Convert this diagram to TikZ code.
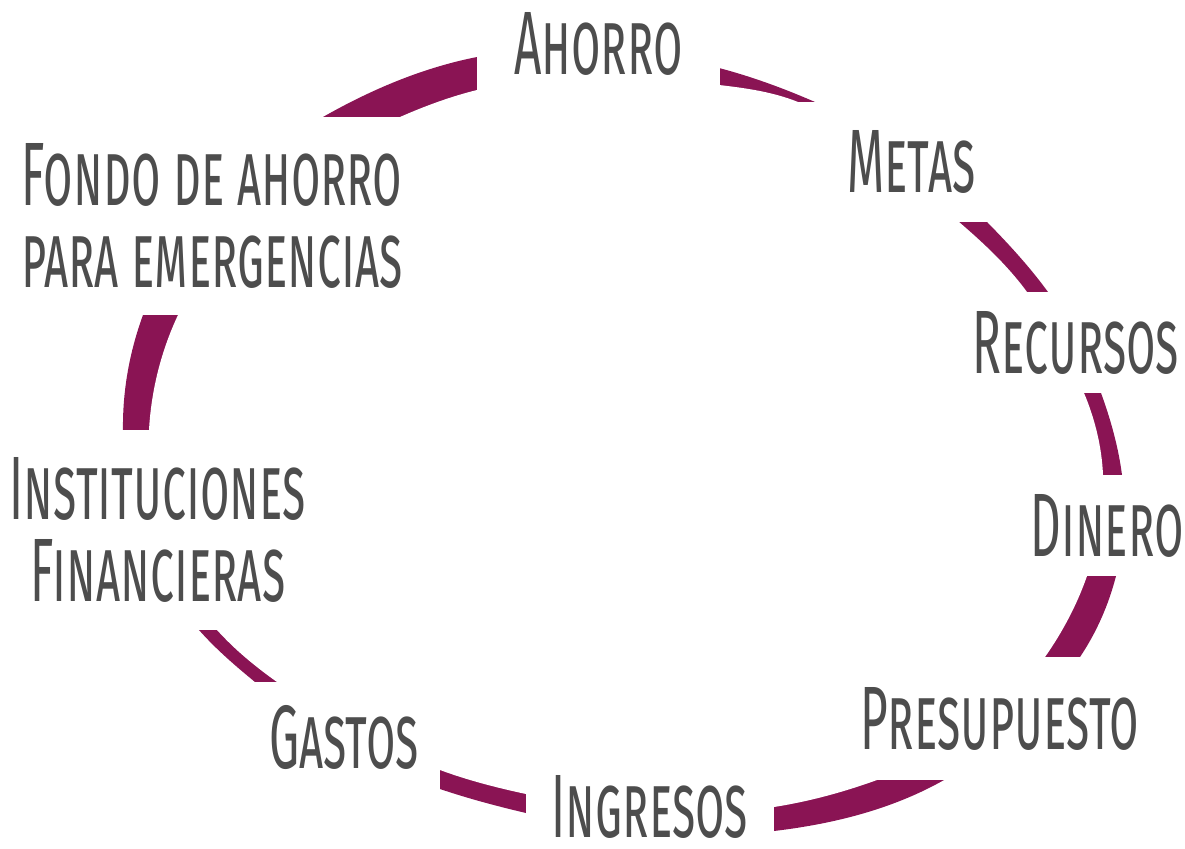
\documentclass[tikz,border=0pt]{standalone}
\usepackage{fontspec}
\usepackage{tikz}
\usetikzlibrary{positioning,hobby}
\newfontfamily\tagfont{Fira Sans}[FakeStretch=0.53]
\definecolor{ringred}{HTML}{8A1454}
\definecolor{textgray}{HTML}{4D4D4D}
\tikzset{
    ring/.style = {
        fill=ringred,
        use Hobby shortcut,
        closed=true
    },
    hole/.style = {
        fill=white,
        use Hobby shortcut,
        closed=true
    },
    tag/.style = {
        fill=white,
        text=textgray,
        inner sep=0pt,
        align=center,
        font=\tagfont\fontsize{90}{82}\selectfont\scshape
    },
}
\begin{document}
\begin{tikzpicture}[x=1pt, y=-1pt]
    \useasboundingbox (0,0) rectangle (1185,848);

    % outer edge, then the hole
    \path[ring] (477,57) .. (606,50) .. (719,68) .. (815,102) .. (910,154)
        .. (987,222) .. (1048,292) .. (1079,342) .. (1101,393) .. (1122,475)
        .. (1124,524) .. (1116,576) .. (1080,657) .. (1022,722) .. (944,780)
        .. (774,831) .. (650,834) .. (526,813) .. (440,789) .. (342,745)
        .. (255,682) .. (199,630) .. (144,538) .. (123,430) .. (143,315)
        .. (209,205) .. (323,117);
    \path[hole] (477,90) .. (600,77) .. (719,85) .. (798,102) .. (889,164)
        .. (959,222) .. (1027,292) .. (1058,342) .. (1084,393) .. (1103,475)
        .. (1100,524) .. (1087,576) .. (1045,657) .. (975,730) .. (877,780)
        .. (774,807) .. (651,812) .. (526,794) .. (440,770) .. (355,730)
        .. (277,682) .. (217,630) .. (164,541) .. (149,430) .. (178,315)
        .. (264,202) .. (400,117);

    \node[tag, minimum width=243pt, minimum height=108pt] (ahorro) at (598.5,44) {Ahorro};
    \node[tag, minimum width=240pt, minimum height=120pt] (metas) at (911.5,162) {Metas};
    \node[tag, minimum width=210pt, minimum height=101pt] (recursos) at (1076,342.5) {Recursos};
    \node[tag, minimum width=170pt, minimum height=101pt] (dinero) at (1107,525.5) {Dinero};
    \node[tag, minimum width=290pt, minimum height=123pt] (presupuesto) at (1000,718.5) {Presupuesto};
    \node[tag, minimum width=248pt, minimum height=72pt] (ingresos) at (650,807) {Ingresos};
    \node[tag, minimum width=192pt, minimum height=110pt] (gastos) at (344,737) {Gastos};
    \node[tag, minimum width=316pt, minimum height=200pt] (instituciones) at (158,530) {Instituciones\\Financieras};
    \node[tag, minimum width=424pt, minimum height=198pt] (fondo) at (212,216) {Fondo de ahorro\\para emergencias};
\end{tikzpicture}
\end{document}
